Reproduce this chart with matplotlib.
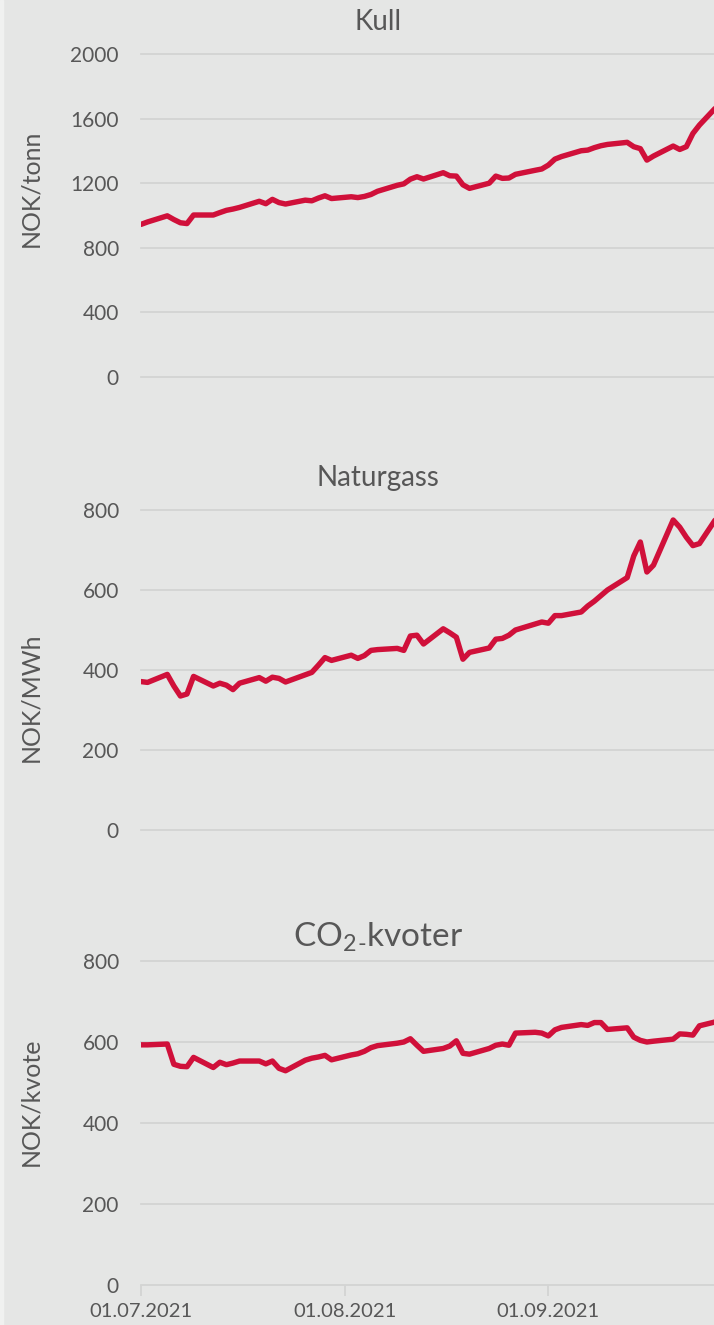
import matplotlib
matplotlib.use("Agg")
import matplotlib.pyplot as plt
import matplotlib.dates as mdates
from matplotlib.patches import Rectangle
import pandas as pd

# ---------------- data ----------------
dates = pd.bdate_range("2021-07-01", "2021-09-27")

kull = [945, 960, 998, 975, 955, 950, 1003,
        1003, 1018, 1032, 1040, 1050,
        1088, 1073, 1100, 1080, 1071,
        1095, 1091, 1108, 1122, 1105,
        1116, 1111, 1118, 1130, 1150,
        1187, 1196, 1225, 1240, 1226,
        1265, 1246, 1244, 1190, 1168,
        1200, 1244, 1230, 1232, 1255,
        1280, 1288, 1312, 1349, 1365,
        1401, 1405, 1420, 1432, 1440,
        1453, 1426, 1414, 1343, 1368,
        1430, 1409, 1426, 1508, 1560,
        1690]

naturgass = [371, 369, 389, 360, 335, 340, 384,
             360, 367, 362, 351, 367,
             381, 372, 382, 379, 370,
             388, 394, 412, 431, 424,
             437, 429, 436, 449, 451,
             454, 449, 485, 487, 465,
             503, 493, 482, 427, 444,
             455, 477, 479, 487, 500,
             515, 520, 517, 536, 536,
             545, 560, 572, 586, 600,
             631, 685, 720, 645, 662,
             775, 757, 732, 711, 716,
             790]

co2 = [593, 593, 595, 545, 540, 539, 562,
       537, 550, 544, 548, 553,
       553, 546, 553, 535, 529,
       555, 560, 563, 567, 556,
       568, 571, 577, 586, 591,
       597, 600, 608, 592, 577,
       584, 590, 603, 572, 570,
       584, 592, 595, 592, 622,
       624, 622, 615, 630, 636,
       643, 641, 648, 648, 631,
       635, 612, 604, 600, 602,
       607, 620, 619, 617, 640,
       652]

titles = ["Kull", "Naturgass", r"CO$_{\mathregular{2}}$$_{\mathregular{\text{-}}}$kvoter"]
title_sizes = [20, 20, 24]
ylabels = ["NOK/tonn", "NOK/MWh", "NOK/kvote"]
yticks_list = [[0, 400, 800, 1200, 1600, 2000],
               [0, 200, 400, 600, 800],
               [0, 200, 400, 600, 800]]
xtick_dates = ["2021-07-01", "2021-08-01", "2021-09-01"]

# ---------------- style ----------------
BG = "#e5e6e5"
GRID = "#d3d4d3"
TXT = "#575757"
RED = "#d0103a"
FONT = ["Lato", "DejaVu Sans"]
plt.rcParams["font.family"] = FONT
plt.rcParams["mathtext.fontset"] = "custom"
plt.rcParams["mathtext.rm"] = "Lato"
plt.rcParams["mathtext.it"] = "Lato"

W, H = 714, 1325
fig = plt.figure(figsize=(W / 100, H / 100), dpi=100, facecolor=BG)
fig.patches.append(Rectangle((0, 0), 3 / W, 1, transform=fig.transFigure,
                             color="#f0f1f0", zorder=0))

# pixel layout: (y of top gridline, y of zero gridline)
panels = [(54, 377), (510, 830), (961, 1285)]
title_y = [22, 478, 937]
ylabel_y = [188, 697, 1102]
left_px = 141
px_per_day = 6.57
x0 = pd.Timestamp("2021-07-01")
x1 = x0 + pd.Timedelta(days=(W - left_px) / px_per_day)

series = [kull, naturgass, co2]
for i, (ytop, ybot) in enumerate(panels):
    ax = fig.add_axes([left_px / W, 1 - ybot / H, 1 - left_px / W, (ybot - ytop) / H])
    ax.set_facecolor(BG)
    ax.plot(dates, series[i], color=RED, lw=3.9, solid_joinstyle="round",
            solid_capstyle="round", zorder=3)
    yt = yticks_list[i]
    ax.set_ylim(yt[0], yt[-1])
    ax.set_yticks(yt)
    ax.set_xlim(x0, x1)
    for s in ax.spines.values():
        s.set_visible(False)
    ax.yaxis.grid(True, color=GRID, lw=1.3)
    ax.set_axisbelow(True)
    for gl in ax.get_ygridlines():
        gl.set_clip_on(False)
    ax.tick_params(axis="y", length=0, pad=16, labelsize=15, labelcolor=TXT)
    ax.set_xticks([pd.Timestamp(d) for d in xtick_dates])
    ax.xaxis.set_major_formatter(mdates.DateFormatter("%d.%m.%Y"))
    if i < 2:
        ax.tick_params(axis="x", length=0, labelbottom=False)
    else:
        ax.tick_params(axis="x", length=8, width=1.3, color=GRID, pad=5,
                       labelsize=14.5, labelcolor=TXT)
    fig.text(378 / W, 1 - title_y[i] / H, titles[i], ha="center", va="center",
             fontsize=title_sizes[i], color=TXT)
    fig.text(31 / W, 1 - ylabel_y[i] / H, ylabels[i], ha="center", va="center",
             rotation=90, fontsize=18, color=TXT)

fig.savefig("out.png", dpi=100, facecolor=BG)
